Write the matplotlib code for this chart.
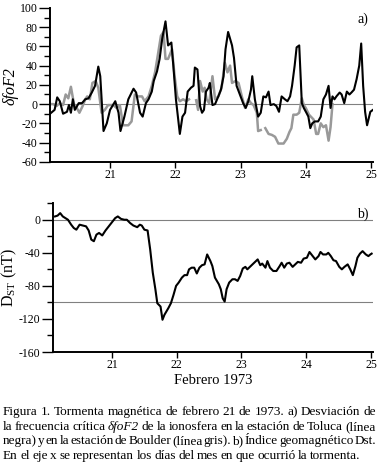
import numpy as np
import matplotlib
matplotlib.use("Agg")
import matplotlib.pyplot as plt

plt.rcParams['font.family'] = ['Liberation Serif', 'DejaVu Serif']
plt.rcParams['mathtext.fontset'] = 'custom'
plt.rcParams['mathtext.rm'] = 'Liberation Serif'
plt.rcParams['axes.unicode_minus'] = False

# dias de febrero 1973
toluca_day = [20.08, 20.15, 20.19, 20.23, 20.28, 20.34, 20.37, 20.40, 20.43, 20.46,
              20.52, 20.57, 20.62, 20.67, 20.72, 20.77, 20.82, 20.85, 20.90, 20.95,
              21.00, 21.08, 21.13, 21.16, 21.22, 21.28, 21.36, 21.40, 21.46, 21.50,
              21.55, 21.59, 21.64, 21.67, 21.72, 21.76, 21.80, 21.85, 21.89, 21.94,
              21.97, 22.01, 22.04, 22.07, 22.11, 22.15, 22.19, 22.24, 22.28, 22.30,
              22.34, 22.38, 22.41, 22.44, 22.47, 22.51, 22.53, 22.57, 22.61, 22.66,
              22.70, 22.74, 22.77, 22.81, 22.87, 22.90, 22.94, 22.99, 23.04, 23.08,
              23.12, 23.16, 23.18, 23.22, 23.27, 23.31, 23.35, 23.39, 23.43, 23.46,
              23.51, 23.55, 23.59, 23.63, 23.68, 23.72, 23.76, 23.79, 23.83, 23.86,
              23.90, 23.94, 23.97, 24.01, 24.04, 24.07, 24.10, 24.14, 24.19, 24.23,
              24.27, 24.31, 24.35, 24.38, 24.41, 24.44, 24.47, 24.52, 24.55, 24.59,
              24.63, 24.67, 24.70, 24.74, 24.78, 24.82, 24.85, 24.88, 24.91, 24.94,
              24.99, 25.03]
toluca_fof2 = [-10, -6, 7, 3, -10, -8, -1, -9, 5, -6,
               1, 1, 5, 6, 12, 19, 39, 29, -28, -20,
               -6, 3, -9, -28, -13, 5, 16, 12, -9, -13,
               1, 5, 13, 24, 34, 47, 68, 86, 61, 64,
               40, 5, -13, -31, -13, -9, 13, 17, 19, 38,
               36, -2, -9, -6, 13, 17, 22, -1, 0, 8,
               15, 29, 57, 75, 61, 48, 19, 10, 1, -4,
               3, 15, 29, 5, -13, -9, 8, 7, 13, -1,
               0, -2, -8, 8, 5, 3, 8, 19, 40, 59,
               61, 1, -4, -9, -13, -25, -20, -18, -18, -13,
               5, 10, 19, -4, 8, 5, 8, 12, 10, 1,
               13, 10, 12, 15, 26, 40, 63, 19, -8, -22,
               -8, -6]

boulder_day = [20.08, 20.13, 20.18, 20.23, 20.28, 20.32, 20.36, 20.40, 20.45, 20.49,
               20.53, 20.58, 20.62, 20.65, 20.69, 20.73, 20.78, 20.82, 20.87, 20.92,
               20.97, 21.05, 21.10, 21.15, 21.20, 21.28, 21.33, 21.38, 21.43, 21.49,
               21.53, 21.59, 21.64, 21.69, 21.74, 21.78, 21.82, 21.85, 21.89, 21.95,
               21.99, 22.03, 22.07, 22.12, 22.17, 22.21, 22.26, 22.32, 22.35, 22.38,
               22.42, 22.45, 22.48, 22.52, 22.57, 22.61, 22.66, 22.71, 22.76, 22.80,
               22.84, 22.87, 22.92, 22.97, 23.02, 23.07, 23.12, 23.16, 23.20, 23.25,
               23.27, 23.31, 23.34, 23.38, 23.43, 23.48, 23.53, 23.58, 23.66, 23.71,
               23.75, 23.78, 23.81, 23.86, 23.90, 23.94, 23.97, 24.00, 24.05, 24.12,
               24.16, 24.19, 24.23, 24.27, 24.31, 24.35, 24.38, 24.41]
boulder_fof2 = [0, 0, -2, 1, -1, 10, 6, 18, -1, -4,
                -9, -2, 5, 8, 5, 22, 24, 17, -9, -6,
                -1, -1, -4, -1, -22, -22, -18, 10, 8, 8,
                3, 8, 19, 33, 54, 71, 75, 47, 47, 57,
                29, 8, 3, 5, 3, 5, np.nan, 4, -6, 24,
                13, 17, 5, 1, 29, 5, 8, 17, 43, 33,
                40, 22, 24, 22, 8, -4, 5, 1, -1, -9,
                -28, -27, np.nan, -25, -31, -32, -34, -41, -41, -36,
                -29, -25, -11, -11, -9, 6, -1, -4, -11, -16,
                -31, -31, -20, -24, -22, -38, -24, 0]

dst_day = [20.12, 20.16, 20.20, 20.24, 20.28, 20.32, 20.37, 20.41, 20.45, 20.50,
           20.55, 20.60, 20.64, 20.68, 20.72, 20.76, 20.80, 20.85, 20.90, 20.95,
           21.00, 21.05, 21.09, 21.14, 21.19, 21.23, 21.28, 21.33, 21.39, 21.43,
           21.46, 21.50, 21.55, 21.59, 21.63, 21.67, 21.70, 21.75, 21.78, 21.81,
           21.84, 21.87, 21.91, 21.95, 21.99, 22.03, 22.08, 22.12, 22.16, 22.19,
           22.23, 22.27, 22.31, 22.35, 22.39, 22.43, 22.47, 22.52, 22.55, 22.59,
           22.65, 22.68, 22.71, 22.74, 22.77, 22.81, 22.86, 22.90, 22.94, 22.98,
           23.02, 23.06, 23.09, 23.13, 23.17, 23.21, 23.25, 23.29, 23.32, 23.37,
           23.40, 23.44, 23.49, 23.54, 23.59, 23.62, 23.66, 23.70, 23.74, 23.79,
           23.83, 23.87, 23.92, 23.96, 24.01, 24.05, 24.08, 24.14, 24.19, 24.22,
           24.26, 24.31, 24.34, 24.38, 24.42, 24.46, 24.51, 24.55, 24.59, 24.64,
           24.68, 24.72, 24.76, 24.79, 24.83, 24.87, 24.92, 24.96, 24.99, 25.01]
dst_nt = [4, 5, 8, 4, 2, 0, -6, -10, -12, -6,
          -7, -8, -13, -24, -26, -18, -16, -19, -13, -8,
          -3, 2, 4, 1, 0, 0, -4, -7, -9, -6,
          -7, -12, -13, -36, -64, -84, -101, -105, -121, -115,
          -111, -107, -101, -91, -80, -76, -70, -67, -67, -60,
          -58, -58, -65, -58, -55, -54, -42, -50, -56, -70,
          -78, -84, -95, -99, -84, -76, -72, -72, -74, -68,
          -59, -57, -60, -57, -54, -51, -48, -55, -53, -58,
          -50, -58, -62, -62, -56, -52, -58, -53, -52, -57,
          -54, -51, -52, -47, -46, -39, -42, -48, -44, -39,
          -42, -42, -40, -44, -49, -50, -57, -60, -57, -54,
          -60, -67, -56, -46, -41, -38, -42, -44, -42, -41]

day_ticks = [21, 22, 23, 24, 25]

fig = plt.figure(figsize=(3.79, 4.65), dpi=100)

# ---- a) foF2
ax1 = fig.add_axes([0.132, 0.652, 0.852, 0.331])
ax1.axhline(0, color='#808080', lw=0.8, zorder=1)
ax1.plot(boulder_day, boulder_fof2, color='#999999', lw=1.8, zorder=2)
ax1.plot(toluca_day, toluca_fof2, color='black', lw=1.5, zorder=3)
ax1.set_xlim(20.08, 25.03)
ax1.set_ylim(-60, 100)
ax1.set_yticks(np.arange(-60, 101, 20))
ax1.set_yticks(np.arange(-50, 100, 20), minor=True)
ax1.set_xticks(day_ticks)
ax1.set_ylabel('δfoF2', fontstyle='italic', fontsize=11.5)
ax1.yaxis.set_label_coords(-0.097, 0.49)
ax1.text(0.985, 0.97, 'a)', transform=ax1.transAxes, ha='right', va='top', fontsize=10)

# ---- b) Dst
ax2 = fig.add_axes([0.140, 0.243, 0.844, 0.320])
ax2.axhline(0, color='#808080', lw=0.8, zorder=1)
ax2.axhline(-100, color='#808080', lw=0.8, zorder=1)
ax2.plot(dst_day, dst_nt, color='black', lw=1.5, zorder=3)
ax2.set_xlim(20.09, 25.03)
ax2.set_ylim(-160, 20)
ax2.set_yticks(np.arange(-160, 1, 40))
ax2.set_yticks(np.arange(-140, 21, 40), minor=True)
ax2.set_xticks(day_ticks)
ax2.set_ylabel(r'D$_{\mathrm{ST}}$ (nT)', fontsize=11.5)
ax2.yaxis.set_label_coords(-0.105, 0.5)
ax2.set_xlabel('Febrero 1973', fontsize=10.5)
ax2.xaxis.set_label_coords(0.5, -0.145)
ax2.text(0.985, 0.97, 'b)', transform=ax2.transAxes, ha='right', va='top', fontsize=10)

for ax in (ax1, ax2):
    for s in ('top', 'right'):
        ax.spines[s].set_visible(False)
    for s in ('left', 'bottom'):
        ax.spines[s].set_linewidth(1.4)
    ax.tick_params(axis='both', which='major', direction='out', width=1.0,
                   labelsize=8.5, pad=1)
    ax.tick_params(axis='y', which='major', length=8)
    ax.tick_params(axis='y', which='minor', direction='out', length=4.5, width=1.0)
    ax.tick_params(axis='x', which='major', length=4)

# ---- caption, justified
caption = [
    "Figura 1. Tormenta magnética de febrero 21 de 1973. a) Desviación de",
    "la frecuencia crítica δfoF2 de la ionosfera en la estación de Toluca (línea",
    "negra) y en la estación de Boulder (línea gris). b) Índice geomagnético Dst.",
    "En el eje x se representan los días del mes en que ocurrió la tormenta.",
]
renderer = fig.canvas.get_renderer()
x0, x1 = 3 / 379, 376 / 379
ys = [1 - 412 / 465, 1 - 427 / 465, 1 - 441 / 465, 1 - 456 / 465]
for i, line in enumerate(caption):
    words = line.split(' ')
    texts = []
    for w in words:
        style = 'italic' if w == 'δfoF2' else 'normal'
        t = fig.text(0, ys[i], w, fontsize=9.5, fontstyle=style, va='center', ha='left')
        texts.append(t)
    widths = [t.get_window_extent(renderer).width / fig.bbox.width for t in texts]
    if i < len(caption) - 1:
        gap = (x1 - x0 - sum(widths)) / (len(words) - 1)
    else:
        gap = 2.5 / 379
    x = x0
    for t, w in zip(texts, widths):
        t.set_x(x)
        x += w + gap

fig.savefig('out.png', dpi=100)
